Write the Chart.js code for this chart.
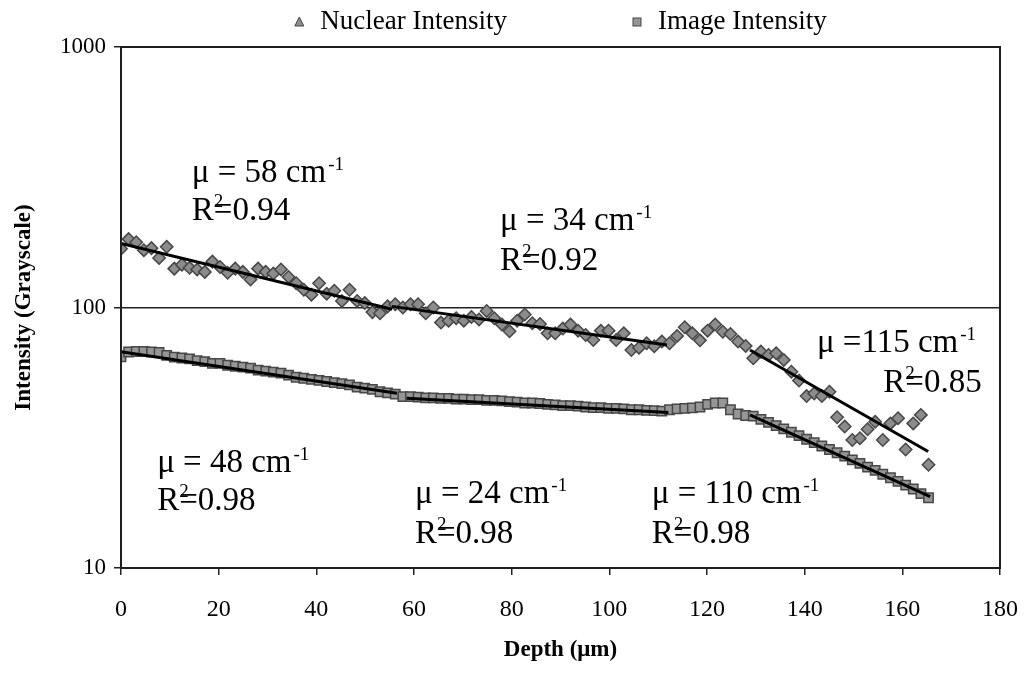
<!DOCTYPE html>
<html>
<head>
<meta charset="utf-8">
<title>Intensity vs depth</title>
<script src="https://cdn.jsdelivr.net/npm/chart.js@4.4.1/dist/chart.umd.min.js"></script>
<style>
  html, body { margin: 0; padding: 0; background: #fff; }
  #chart { display: block; }
</style>
</head>
<body>
<canvas id="chart" width="1025" height="673"></canvas>
<script>
// depth (um) of every sample, shared by both series
const depth = [
  0, 1.56, 3.12, 4.68, 6.24, 7.8, 9.36, 10.92, 12.48, 14.04,
  15.6, 17.16, 18.72, 20.28, 21.84, 23.4, 24.96, 26.52, 28.08, 29.64,
  31.2, 32.76, 34.32, 35.88, 37.44, 39, 40.56, 42.12, 43.68, 45.24,
  46.8, 48.36, 49.92, 51.48, 53.04, 54.6, 56.16, 57.72, 59.28, 60.84,
  62.4, 63.96, 65.52, 67.08, 68.64, 70.2, 71.76, 73.32, 74.88, 76.44,
  78, 79.56, 81.12, 82.68, 84.24, 85.8, 87.36, 88.92, 90.48, 92.04,
  93.6, 95.16, 96.72, 98.28, 99.84, 101.4, 102.96, 104.52, 106.08, 107.64,
  109.2, 110.76, 112.32, 113.88, 115.44, 117, 118.56, 120.12, 121.68, 123.24,
  124.8, 126.36, 127.92, 129.48, 131.04, 132.6, 134.16, 135.72, 137.28, 138.84,
  140.4, 141.96, 143.52, 145.08, 146.64, 148.2, 149.76, 151.32, 152.88, 154.44,
  156, 157.56, 159.12, 160.68, 162.24, 163.8, 165.36
];

const nuclearIntensity = [
  168, 183, 178, 166, 169, 155, 171, 141, 146, 142,
  140, 137, 150, 143, 136, 141, 137, 128, 141, 137,
  135, 140, 131, 124, 117, 112, 124, 113, 116, 106,
  117, 106, 104, 96, 95, 101, 103, 100, 103, 103,
  95, 100, 87.5, 89, 91, 89, 92, 90, 97, 91,
  86, 81, 89, 94, 87, 86.5, 79.6, 79.6, 83, 86,
  81.5, 78.4, 75, 81.5, 81.5, 75, 79.6, 68.7, 70.1, 72.9,
  71, 74, 72.9, 77.8, 84, 79.6, 74.8, 81.5, 86, 80.7,
  79.1, 74, 71.2, 63.8, 67.7, 65.7, 66.7, 62.9, 56.7, 52.4,
  45.7, 46.8, 45.7, 47.5, 37.9, 34.9, 31, 31.5, 34.1, 36.4,
  31, 35.9, 37.6, 28.5, 35.9, 38.7, 24.9
];

const imageIntensity = [
  64.6, 67.5, 67.8, 67.8, 67.5, 67.2, 65.5, 64.5, 64, 63.5,
  62.5, 62, 61, 61, 60, 59.5, 59, 58.5, 57.5, 57,
  56.5, 56, 55, 54, 53.5, 53, 52.5, 52, 51.5, 51,
  50.5, 49.5, 49, 48.5, 47.5, 47, 46.5, 45.5, 45.5, 45.3,
  45, 45, 44.8, 44.8, 44.5, 44.5, 44.3, 44.3, 44, 44,
  43.8, 43.5, 43.3, 43, 43, 42.8, 42.5, 42.3, 42, 42,
  41.8, 41.5, 41.3, 41.3, 41, 41, 40.8, 40.5, 40.5, 40.3,
  40.2, 40, 40.5, 40.8, 41, 41.2, 41.5, 42.5, 43, 43,
  40.5, 39, 38.5, 38.3, 37.2, 36.2, 35.2, 34.2, 33.2, 32.2,
  31.2, 30.3, 29.4, 28.5, 27.7, 26.9, 26, 25.2, 24.4, 23.7,
  22.9, 22.2, 21.5, 20.8, 20.1, 19.3, 18.6
];

// exponential fits, start and end of each segment
const nuclearFitDepth = [[0, 55.5], [55.5, 111.8], [128.8, 165.3]];
const nuclearFitValue = [[176, 98.5], [101, 71.8], [68.7, 28]];
const imageFitDepth = [[0, 56.5], [58.5, 112.1], [128.8, 165.7]];
const imageFitValue = [[67.7, 46.9], [44.8, 39.5], [38.7, 18.8]];

const seriesNames = ['Nuclear Intensity', 'Image Intensity'];
const yTicks = [10, 100, 1000];

// fit labels, anchored in data units (depth, intensity)
const fitNotes = [
  { mu: 'μ = 58 cm', r2: '0.94', muAt: [14.5, 303], r2At: [14.5, 217] },
  { mu: 'μ = 34 cm', r2: '0.92', muAt: [77.6, 198], r2At: [77.6, 139] },
  { mu: 'μ =115 cm', r2: '0.85', muAt: [142.5, 67.5], r2At: [156.1, 47.4] },
  { mu: 'μ = 48 cm', r2: '0.98', muAt: [7.4, 23.4], r2At: [7.4, 16.7] },
  { mu: 'μ = 24 cm', r2: '0.98', muAt: [60.2, 17.8], r2At: [60.2, 12.5] },
  { mu: 'μ = 110 cm', r2: '0.98', muAt: [108.7, 17.8], r2At: [108.7, 12.5] }
];

const serif = '"Liberation Serif", "Times New Roman", serif';
Chart.defaults.font.family = serif;
Chart.defaults.color = '#000';

const toPoints = (xs, ys) => xs.map((x, i) => ({ x: x, y: ys[i] }));

const fitLine = (xs, ys) => ({
  label: 'fit',
  data: toPoints(xs, ys),
  showLine: true,
  borderColor: '#000',
  borderWidth: 3,
  pointRadius: 0,
  order: 0
});

const datasets = [
  ...nuclearFitDepth.map((xs, k) => fitLine(xs, nuclearFitValue[k])),
  ...imageFitDepth.map((xs, k) => fitLine(xs, imageFitValue[k])),
  {
    label: seriesNames[0],
    data: toPoints(depth, nuclearIntensity),
    pointStyle: 'rectRot',
    pointRadius: 6.2,
    backgroundColor: '#8c8c8c',
    borderColor: '#474747',
    borderWidth: 1.5,
    order: 1
  },
  {
    label: seriesNames[1],
    data: toPoints(depth, imageIntensity),
    pointStyle: 'rect',
    pointRadius: 6.6,
    backgroundColor: '#969696',
    borderColor: '#474747',
    borderWidth: 1.5,
    order: 2
  }
];

const framePlugin = {
  id: 'frame',
  afterDatasetsDraw(chart) {
    const { ctx, chartArea: a } = chart;
    ctx.save();
    ctx.strokeStyle = '#1e1e1e';
    ctx.lineWidth = 2;
    ctx.strokeRect(a.left, a.top, a.right - a.left, a.bottom - a.top);
    ctx.restore();
  }
};

const legendPlugin = {
  id: 'topLegend',
  afterDraw(chart) {
    const { ctx, chartArea: a } = chart;
    const markerFill = ['#8c8c8c', '#969696'];
    ctx.save();
    ctx.font = '27px ' + serif;
    ctx.textBaseline = 'middle';
    ctx.fillStyle = '#000';
    const w1 = ctx.measureText(seriesNames[0]).width;
    const w2 = ctx.measureText(seriesNames[1]).width;
    const toText = 21;
    const gap = 130;
    const total = 5 + toText + w1 + gap + toText + w2;
    const cy = 22;
    let cx = (a.left + a.right) / 2 - total / 2 + 5;

    ctx.beginPath();
    ctx.moveTo(cx, cy - 5);
    ctx.lineTo(cx + 4.5, cy + 4);
    ctx.lineTo(cx - 4.5, cy + 4);
    ctx.closePath();
    ctx.fillStyle = markerFill[0];
    ctx.fill();
    ctx.strokeStyle = '#474747';
    ctx.lineWidth = 1;
    ctx.stroke();
    ctx.fillStyle = '#000';
    ctx.fillText(seriesNames[0], cx + toText, cy);

    cx += toText + w1 + gap;
    ctx.fillStyle = markerFill[1];
    ctx.fillRect(cx - 4, cy - 4, 8, 8);
    ctx.strokeRect(cx - 4, cy - 4, 8, 8);
    ctx.fillStyle = '#000';
    ctx.fillText(seriesNames[1], cx + toText, cy);
    ctx.restore();
  }
};

const notesPlugin = {
  id: 'fitNotes',
  afterDatasetsDraw(chart) {
    const { ctx, scales: { x, y } } = chart;
    ctx.save();
    ctx.fillStyle = '#000';
    ctx.textBaseline = 'alphabetic';
    ctx.textAlign = 'left';
    fitNotes.forEach(n => {
      let px = x.getPixelForValue(n.muAt[0]);
      let py = y.getPixelForValue(n.muAt[1]);
      ctx.font = '33px ' + serif;
      ctx.fillText(n.mu, px, py);
      px += ctx.measureText(n.mu).width + 2;
      ctx.font = '19px ' + serif;
      ctx.fillText('-1', px, py - 12);

      px = x.getPixelForValue(n.r2At[0]);
      py = y.getPixelForValue(n.r2At[1]);
      ctx.font = '33px ' + serif;
      ctx.fillText('R', px, py);
      const rw = ctx.measureText('R').width;
      ctx.fillText('=' + n.r2, px + rw, py);
      ctx.font = '19px ' + serif;
      ctx.fillText('2', px + rw, py - 13);
    });
    ctx.restore();
  }
};

new Chart(document.getElementById('chart'), {
  type: 'scatter',
  data: { datasets: datasets },
  options: {
    responsive: false,
    animation: false,
    layout: { padding: { top: 47, right: 25, bottom: 0, left: 0 } },
    plugins: {
      legend: { display: false },
      tooltip: { enabled: false }
    },
    scales: {
      x: {
        type: 'linear',
        min: 0,
        max: 180,
        ticks: { stepSize: 20, padding: 20, font: { size: 24 }, color: '#000' },
        grid: { drawOnChartArea: false, tickLength: 7, color: '#222', lineWidth: 1.5 },
        border: { color: '#1e1e1e', width: 2 },
        title: {
          display: true,
          text: 'Depth (μm)',
          font: { size: 23, weight: 'bold' },
          color: '#000',
          padding: { top: 0, bottom: 9 }
        },
        afterFit: s => {
          s.height = 105;
          s.paddingLeft = 0;
          s.paddingRight = 0;
        }
      },
      y: {
        type: 'logarithmic',
        min: 10,
        max: 1000,
        afterBuildTicks: s => { s.ticks = yTicks.map(v => ({ value: v })); },
        ticks: { callback: v => String(v), padding: 8, font: { size: 23 }, color: '#000' },
        grid: { color: '#222', lineWidth: 1.5, tickLength: 7 },
        border: { color: '#1e1e1e', width: 2 },
        title: {
          display: true,
          text: 'Intensity (Grayscale)',
          font: { size: 23, weight: 'bold' },
          color: '#000',
          padding: { top: 10, bottom: 0 }
        },
        afterFit: s => {
          s.width = 121;
          s.paddingTop = 0;
          s.paddingBottom = 0;
        }
      }
    }
  },
  plugins: [framePlugin, notesPlugin, legendPlugin]
});
</script>
</body>
</html>
